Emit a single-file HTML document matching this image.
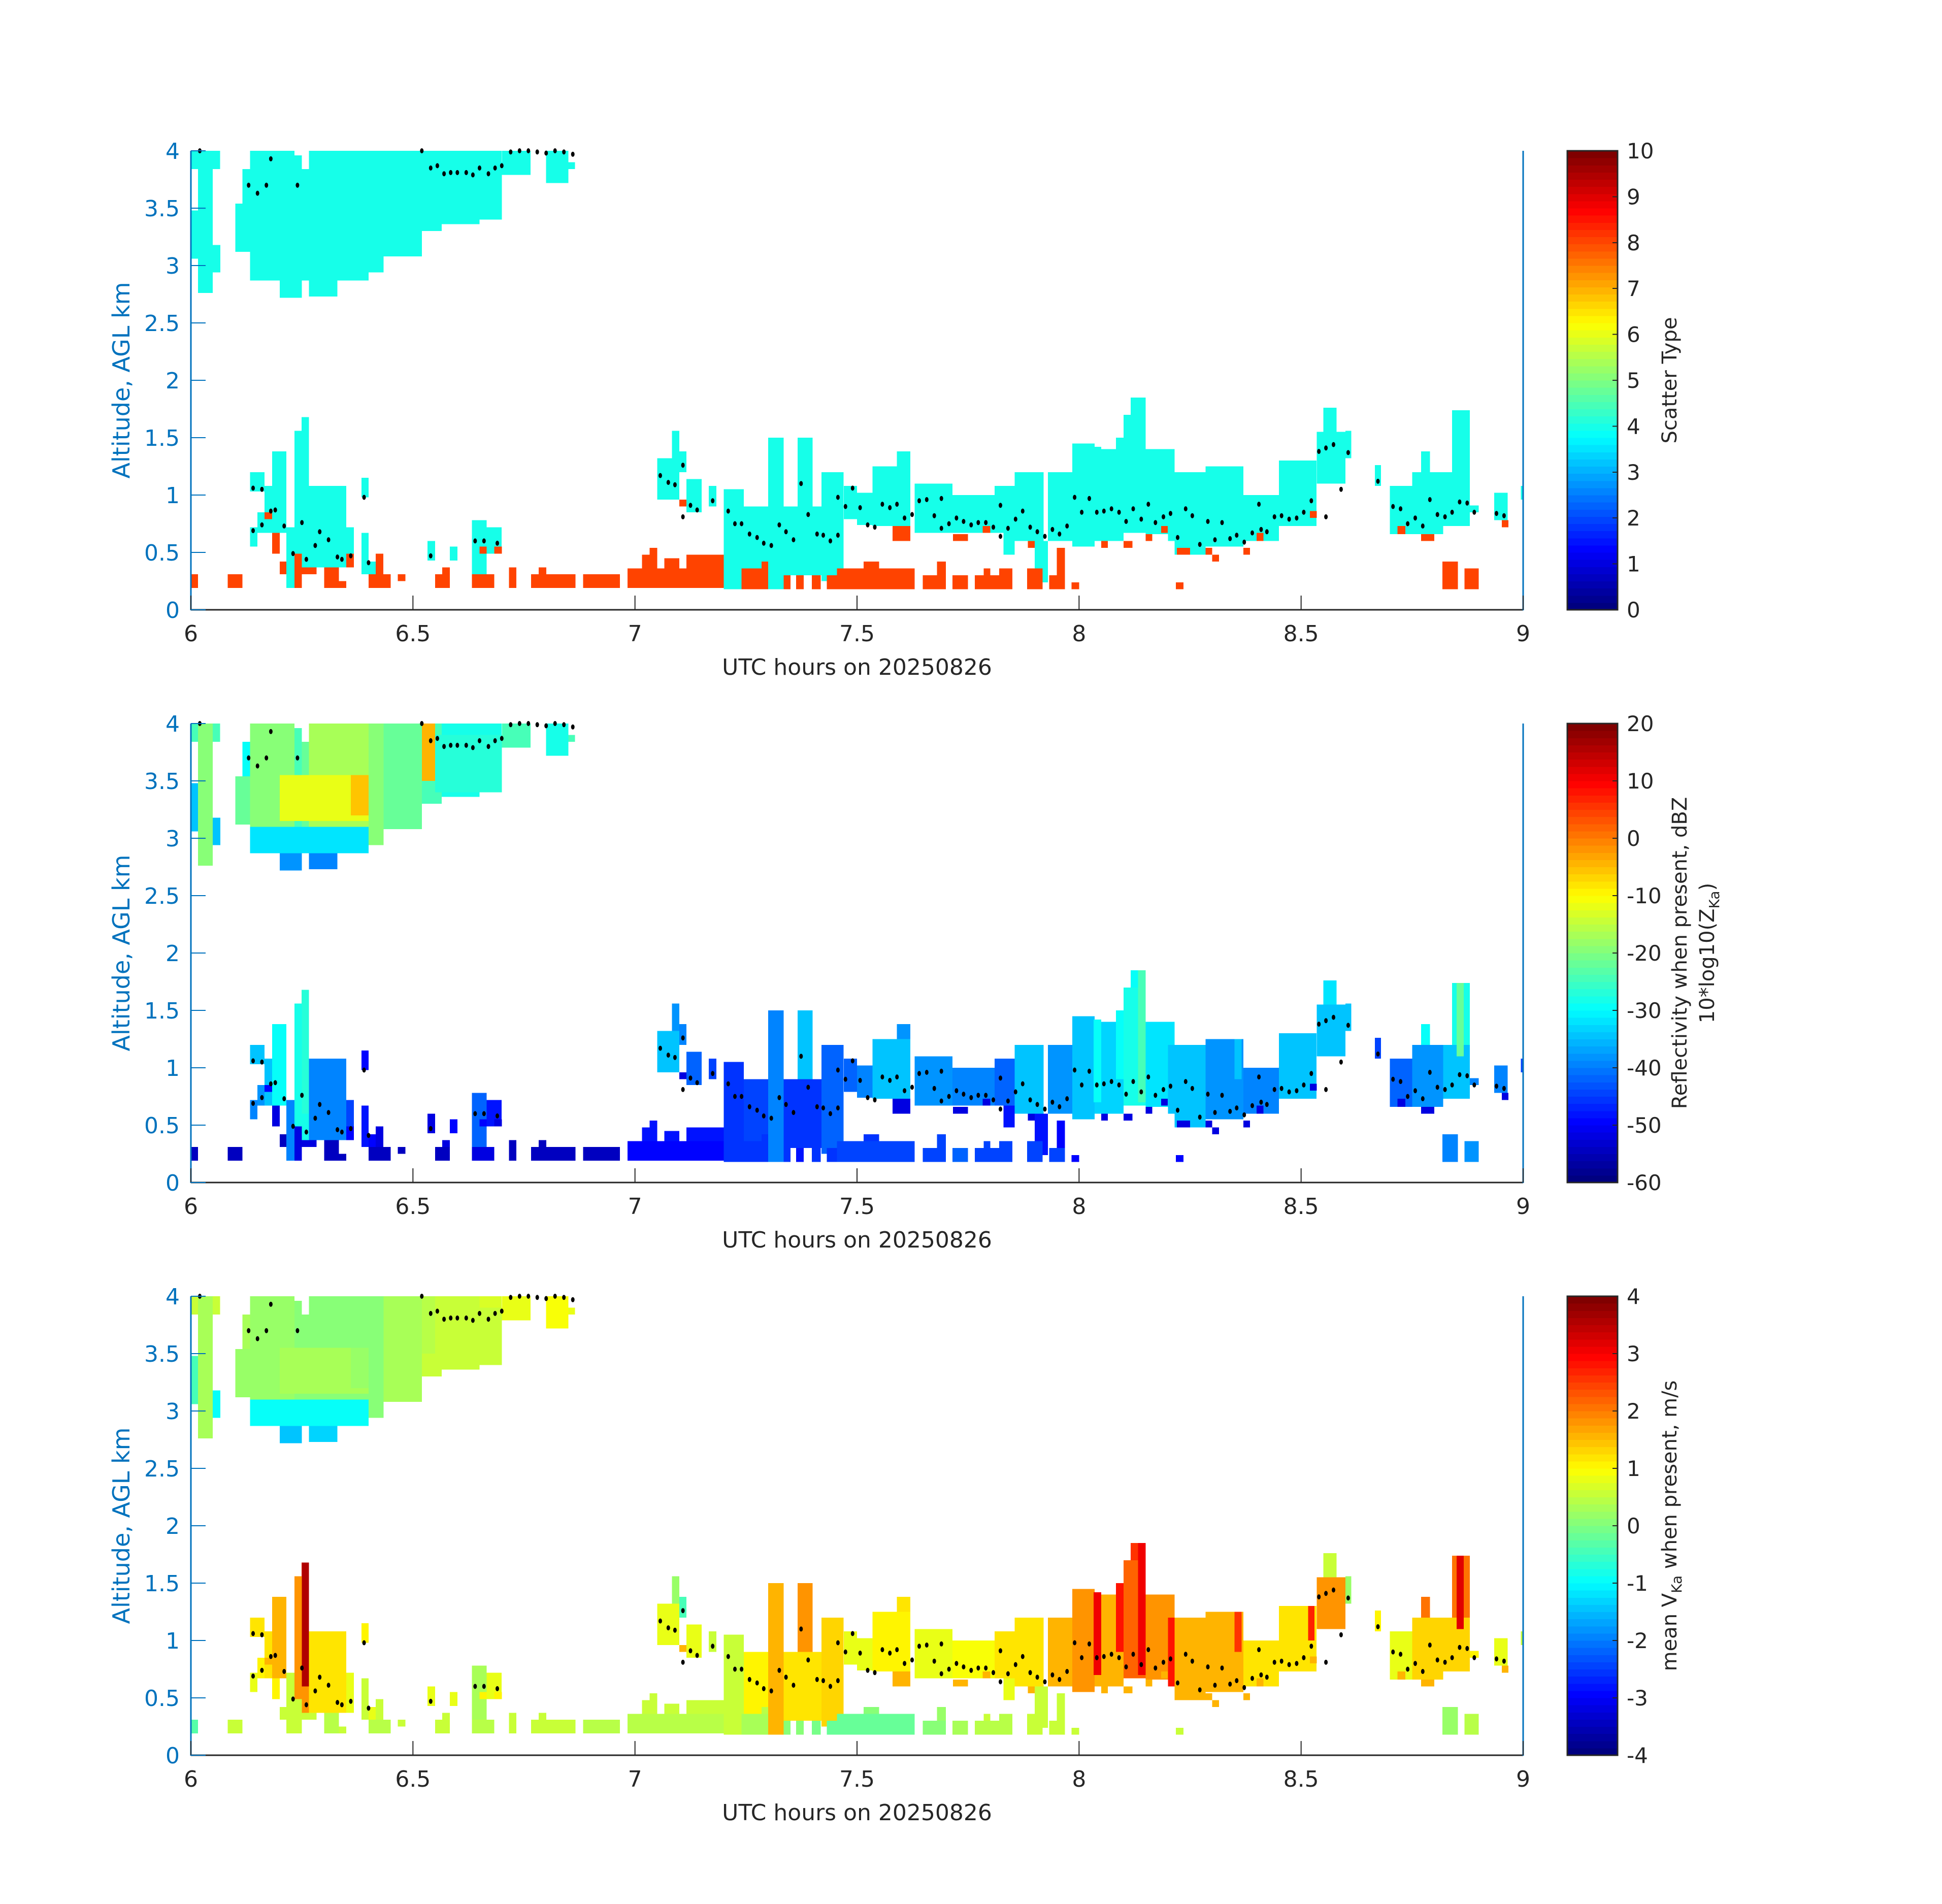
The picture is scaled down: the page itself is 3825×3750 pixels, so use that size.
<!DOCTYPE html>
<html><head><meta charset="utf-8"><title>Radar panels</title>
<style>
html,body{margin:0;padding:0;background:#fff;}
svg{display:block;}
text{font-family:"DejaVu Sans","Liberation Sans",sans-serif;}
</style></head>
<body>
<svg id="fig" xmlns="http://www.w3.org/2000/svg" width="3825" height="3750" viewBox="0 0 3825 3750">
<rect x="0" y="0" width="3825" height="3750" fill="#fff"/>
</svg>
<script>
// ---- data (hours, km) ----
const xTicks = [6, 6.5, 7, 7.5, 8, 8.5, 9];
const yTicks = [0, 0.5, 1, 1.5, 2, 2.5, 3, 3.5, 4];
const yTickLabels = ["0","0.5","1","1.5","2","2.5","3","3.5","4"];
const cbTicks1 = [0,1,2,3,4,5,6,7,8,9,10];
const cbTicks2 = [-60,-50,-40,-30,-20,-10,0,10,20];
const cbTicks3 = [-4,-3,-2,-1,0,1,2,3,4];
// boxes: [t0, t1, z0, z1]
const boxes = [
[6.00,6.066,3.84,4.0],[6.00,6.016,3.06,3.48],[6.016,6.049,2.76,4.0],[6.049,6.066,2.94,3.18],[6.10,6.133,3.12,3.54],
[6.116,6.133,3.54,3.84],[6.133,6.233,2.94,4.0],[6.183,6.233,2.87,2.94],[6.20,6.25,2.72,2.87],[6.233,6.25,2.87,3.96],
[6.25,6.266,2.87,3.84],[6.266,6.40,2.87,4.0],[6.266,6.33,2.73,2.87],[6.40,6.434,2.94,4.0],[6.434,6.52,3.08,4.0],
[6.52,6.565,3.30,4.0],[6.565,6.65,3.36,4.0],[6.65,6.70,3.60,4.0],[6.70,6.765,3.79,4.0],[6.80,6.85,3.72,4.0],
[6.85,6.865,3.84,3.90],[6.133,6.40,2.87,3.10],[6.20,6.40,3.15,3.55],[6.36,6.40,3.20,3.55],[6.52,6.55,3.50,4.0],
[6.55,6.70,3.40,3.90],[6.133,6.166,1.03,1.20],[6.133,6.15,0.55,0.72],[6.15,6.166,0.67,0.85],[6.166,6.183,0.67,1.08],
[6.183,6.215,0.67,1.38],[6.215,6.233,0.19,0.72],[6.233,6.266,0.37,1.56],[6.249,6.266,1.56,1.68],[6.266,6.35,0.37,1.08],
[6.35,6.367,0.49,0.72],[6.384,6.40,0.98,1.15],[6.384,6.40,0.31,0.67],[6.40,6.416,0.31,0.42],[6.533,6.55,0.43,0.60],
[6.583,6.60,0.43,0.55],[6.633,6.666,0.19,0.78],[6.666,6.70,0.49,0.72],[6.0,6.016,0.19,0.31],[6.083,6.116,0.19,0.31],
[6.166,6.183,0.79,0.85],[6.183,6.20,0.49,0.67],[6.20,6.215,0.31,0.42],[6.233,6.25,0.19,0.49],[6.25,6.283,0.31,0.37],
[6.30,6.333,0.19,0.37],[6.333,6.35,0.19,0.25],[6.35,6.367,0.37,0.49],[6.40,6.45,0.19,0.31],[6.416,6.433,0.31,0.49],
[6.466,6.483,0.25,0.31],[6.55,6.583,0.19,0.31],[6.566,6.583,0.31,0.37],[6.633,6.683,0.19,0.31],[6.65,6.666,0.49,0.55],
[6.683,6.70,0.49,0.55],[6.716,6.733,0.19,0.37],[6.766,6.866,0.19,0.31],[6.783,6.80,0.31,0.37],[6.883,6.966,0.19,0.31],
[6.983,7.20,0.19,0.36],[7.016,7.05,0.36,0.48],[7.033,7.05,0.48,0.54],[7.066,7.10,0.36,0.45],[7.116,7.20,0.36,0.48],
[7.05,7.10,0.96,1.32],[7.083,7.10,1.32,1.56],[7.10,7.116,1.20,1.38],[7.116,7.15,0.85,1.14],[7.166,7.183,0.90,1.08],
[7.20,7.245,0.18,1.05],[7.245,7.30,0.30,0.90],[7.30,7.335,0.18,1.50],[7.335,7.42,0.30,0.90],[7.366,7.40,0.90,1.50],
[7.42,7.47,0.25,1.20],[7.47,7.50,0.79,1.08],[7.50,7.535,0.74,1.02],[7.535,7.62,0.73,1.25],[7.59,7.62,1.25,1.38],
[7.63,7.715,0.67,1.10],[7.715,7.81,0.67,1.00],[7.81,7.855,0.67,1.08],[7.855,7.92,0.60,1.20],[7.83,7.855,0.48,0.67],
[7.90,7.93,0.24,0.60],[7.93,7.985,0.60,1.20],[7.985,8.035,0.55,1.45],[8.035,8.10,0.60,1.40],[8.10,8.15,0.67,1.70],
[8.116,8.15,1.70,1.85],[8.15,8.215,0.66,1.40],[8.215,8.285,0.48,1.20],[8.285,8.37,0.55,1.25],[8.37,8.45,0.60,1.00],
[8.45,8.535,0.73,1.30],[8.535,8.60,1.10,1.55],[8.55,8.58,1.55,1.76],[8.60,8.613,1.32,1.56],[8.666,8.68,1.08,1.26],
[8.70,8.75,0.66,1.08],[8.75,8.82,0.66,1.20],[8.77,8.79,1.20,1.38],[8.82,8.88,0.73,1.20],[8.84,8.88,1.20,1.74],
[8.88,8.90,0.85,0.91],[8.935,8.965,0.78,1.02],[8.995,9.0,0.96,1.08],[7.24,7.30,0.18,0.36],[7.285,7.30,0.36,0.42],
[7.335,7.35,0.18,0.30],[7.363,7.38,0.18,0.30],[7.398,7.418,0.18,0.30],[7.432,7.455,0.18,0.30],[7.455,7.63,0.18,0.36],
[7.515,7.55,0.36,0.42],[7.648,7.70,0.18,0.30],[7.68,7.70,0.30,0.42],[7.715,7.75,0.18,0.30],[7.765,7.85,0.18,0.30],
[7.785,7.80,0.30,0.36],[7.82,7.85,0.30,0.36],[7.883,7.918,0.18,0.36],[7.933,7.968,0.18,0.30],[7.95,7.968,0.30,0.54],
[7.983,8.0,0.18,0.24],[8.218,8.235,0.18,0.24],[8.818,8.853,0.18,0.42],[8.868,8.90,0.18,0.36],[7.10,7.116,0.90,0.96],
[7.58,7.62,0.60,0.73],[7.716,7.75,0.60,0.66],[7.783,7.80,0.67,0.73],[7.885,7.90,0.54,0.60],[8.05,8.065,0.54,0.60],
[8.10,8.12,0.54,0.60],[8.15,8.165,0.60,0.66],[8.185,8.20,0.67,0.73],[8.22,8.25,0.48,0.54],[8.285,8.30,0.48,0.54],
[8.30,8.315,0.42,0.48],[8.37,8.385,0.48,0.54],[8.40,8.415,0.60,0.67],[8.52,8.535,0.80,0.86],[8.717,8.735,0.66,0.73],
[8.77,8.80,0.60,0.66],[8.952,8.967,0.72,0.78],[6.25,6.266,0.60,1.68],[8.033,8.05,0.70,1.42],[8.083,8.10,0.90,1.50],
[8.133,8.15,0.70,1.85],[8.20,8.215,0.60,1.20],[8.35,8.366,0.90,1.25],[8.516,8.53,1.00,1.30],[8.85,8.866,1.10,1.74]
];
const scatterType = [
4,4,4,4,4, 4,4,4,4,4, 4,4,4,4,4, 4,4,4,4,4,
4,4,4,4,4, 4,4,4,4,4, 4,4,4,4,4, 4,4,4,4,4,
4,4,4,8,8, 8,8,8,8,8, 8,8,8,8,8, 8,8,8,8,8,
8,8,8,8,8, 8,8,8,8,8, 4,4,4,4,4, 4,4,4,4,4,
4,4,4,4,4, 4,4,4,4,4, 4,4,4,4,4, 4,4,4,4,4,
4,4,4,4,4, 4,4,4,4,4, 4,4,4,8,8, 8,8,8,8,8,
8,8,8,8,8, 8,8,8,8,8, 8,8,8,8,8, 8,8,8,8,8,
8,8,8,8,8, 8,8,8,8,8, 8,8,4,4,4, 4,4,4,4,4
];
const reflectivity = [
-25,-35,-20,-35,-22, -30,-20,-35,-38,-25, -22,-17,-40,-20,-22, -25,-28,-28,-25,-28,
-25,-32,-12,-6,-4, -27,-35,-40,-38,-35, -30,-40,-28,-25,-40, -45,-50,-48,-50,-52,
-50,-42,-48,-55,-55, -50,-52,-55,-52,-52, -55,-55,-50,-55,-52, -55,-55,-52,-52,-50,
-52,-55,-55,-55,-55, -50,-48,-48,-48,-48, -35,-38,-40,-42,-45, -46,-45,-40,-46,-35,
-42,-42,-40,-35,-38, -38,-40,-42,-35,-48, -48,-38,-35,-33,-28, -30,-32,-35,-38,-40,
-35,-35,-32,-35,-45, -42,-38,-30,-35,-28, -40,-40,-45,-46,-46, -46,-48,-46,-46,-45,
-46,-45,-45,-42,-45, -45,-45,-45,-45,-50, -50,-50,-40,-38,-52, -52,-52,-52,-52,-52,
-52,-52,-52,-52,-52, -52,-52,-52,-52,-52, -52,-52,-27,-30,-30, -25,-35,-35,-35,-22
];
const velocity = [
0.5,-0.5,0.3,-1,0.2, 0.3,0.2,-1.2,-1.5,0, 0,0.1,-1.3,0,0.3, 0.5,0.6,0.7,0.8,0.9,
0.8,-1.0,0.3,0.2,0.4, 0.6,1.2,0.8,1.0,1.2, 1.5,0.5,1.8,2.5,1.2, 0.8,1.0,0.5,0.8,0.8,
0.8,0.3,0.8,-0.3,0.5, 1.5,1.0,0.5,0.6,0.5, 0.4,0.5,0.8,0.4,0.5, 0.5,0.5,0.5,0.4,1.0,
1.0,0.5,0.5,0.5,0.4, 0.4,0.5,0.5,0.5,0.5, 0.8,0.2,-0.5,0.8,0.5, 0.6,1.0,1.5,1.2,1.8,
1.3,0.8,0.8,1.0,1.2, 0.8,0.9,1.2,1.2,0.8, 0.5,1.5,1.8,1.5,2.2, 2.5,1.8,1.5,1.5,1.2,
1.2,1.8,0.5,0.2,1.0, 0.8,1.3,2.0,1.3,2.0, 1.0,0.8,0.5,0.3,0.4, 0.1,0.0,-0.1,-0.2,-0.2,
0.0,0.0,0.2,0.3,0.4, 0.5,0.4,0.5,0.5,0.5, 0.5,0.5,0.2,0.4,1.5, 1.5,1.5,1.5,1.5,1.5,
1.5,1.5,1.5,1.5,1.5, 1.5,1.5,1.5,1.5,1.5, 1.5,1.5,3.5,3.0,2.8, 3.0,2.8,2.5,2.7,3.2
];
// cloud-base markers
const dotT = [6.02,6.13,6.15,6.17,6.18,6.24,6.52,6.54,6.555,6.57,6.585,6.6,6.62,6.635,6.65,6.67,6.685,6.70,6.72,6.74,6.76,6.78,6.80,6.82,6.84,6.86,
6.14,6.16,6.14,6.16,6.18,6.19,6.21,6.23,6.25,6.26,6.28,6.29,6.31,6.33,6.34,6.36,6.39,6.40,6.54,6.64,6.66,6.69,
7.057,7.075,7.09,7.108,7.108,7.125,7.14,7.175,7.21,7.225,7.24,7.258,7.275,7.29,7.307,7.325,7.34,7.357,7.374,7.39,7.41,7.424,7.44,7.457,7.457,7.474,7.49,7.507,7.524,7.54,7.557,7.574,7.59,7.607,7.624,7.64,7.657,7.674,7.69,7.69,7.707,7.724,7.74,7.757,7.773,7.79,7.807,7.823,7.823,7.84,7.857,7.873,7.89,7.906,7.923,7.94,7.956,7.973,7.99,8.006,8.023,8.04,8.056,8.073,8.09,8.106,8.122,8.14,8.156,8.172,8.19,8.206,8.222,8.24,8.255,8.272,8.29,8.306,8.322,8.34,8.355,8.372,8.39,8.405,8.41,8.423,8.44,8.456,8.473,8.49,8.506,8.523,8.54,8.556,8.556,8.573,8.606,8.59,8.673,8.707,8.724,8.74,8.757,8.774,8.79,8.807,8.824,8.84,8.857,8.874,8.89,8.94,8.957];
const dotZ = [4.0,3.70,3.63,3.70,3.93,3.70,4.0,3.85,3.87,3.80,3.81,3.81,3.81,3.79,3.85,3.80,3.85,3.87,3.99,4.0,4.0,3.99,3.98,4.0,3.99,3.97,
1.06,1.05,0.69,0.74,0.86,0.87,0.73,0.49,0.76,0.44,0.56,0.68,0.61,0.46,0.44,0.47,0.98,0.41,0.47,0.60,0.60,0.58,
1.17,1.11,1.09,1.26,0.81,0.91,0.87,0.95,0.86,0.75,0.75,0.66,0.63,0.58,0.56,0.74,0.68,0.61,1.10,0.83,0.66,0.65,0.60,0.65,0.98,0.90,1.06,0.89,0.74,0.72,0.92,0.89,0.92,0.80,0.83,0.95,0.96,0.82,0.71,0.97,0.75,0.80,0.77,0.74,0.76,0.76,0.72,0.64,0.91,0.71,0.79,0.86,0.72,0.68,0.64,0.70,0.66,0.73,0.98,0.85,0.97,0.85,0.86,0.88,0.85,0.77,0.88,0.79,0.92,0.76,0.81,0.84,0.63,0.88,0.82,0.57,0.77,0.61,0.76,0.62,0.65,0.59,0.67,0.92,0.70,0.68,0.81,0.82,0.79,0.80,0.85,0.95,1.38,1.41,0.81,1.44,1.37,1.05,1.12,0.90,0.88,0.75,0.80,0.73,0.96,0.83,0.81,0.85,0.94,0.93,0.85,0.84,0.82];

// ---- layout ----
const NS = "http://www.w3.org/2000/svg";
const svg = document.getElementById("fig");
const L = 376, R = 3000, H = 904;
const tops = [297, 1425, 2553];
const CBX = 3087, CBW = 99;
const BLUE = "#0072BD", DARK = "#262626";
function mk(tag, attrs, parent){ const e=document.createElementNS(NS,tag); for(const k in attrs) e.setAttribute(k,attrs[k]); (parent||svg).appendChild(e); return e; }
function jet(f){ f=Math.max(0,Math.min(1,f)); f=Math.min(63,Math.floor(f*64))/63;
  const c=v=>Math.round(255*Math.max(0,Math.min(1,v)));
  return `rgb(${c(1.5-Math.abs(4*f-3))},${c(1.5-Math.abs(4*f-2))},${c(1.5-Math.abs(4*f-1))})`; }

const panels = [
  {vals: scatterType, vmin:0, vmax:10, ticks: cbTicks1, labels:["Scatter Type"], name:"scatter-type"},
  {vals: reflectivity, vmin:-60, vmax:20, ticks: cbTicks2, labels:["Reflectivity when present, dBZ","10*log10(Z<tspan font-size='28' dy='10'>Ka</tspan><tspan dy='-10'>)</tspan>"], name:"reflectivity"},
  {vals: velocity, vmin:-4, vmax:4, ticks: cbTicks3, labels:["mean V<tspan font-size='28' dy='10'>Ka</tspan><tspan dy='-10'> when present, m/s</tspan>"], name:"velocity"}
];

panels.forEach((p, pi) => {
  const T = tops[pi], B = T + H;
  const xs = t => L + (t - 6) / 3 * (R - L);
  const ys = z => B - z / 4 * H;
  const g = mk("g", {});
  
  
  const cells = mk("g", {"shape-rendering":"crispEdges"}, g);
  
  
  boxes.forEach((b, i) => {
    const x0 = xs(b[0]), x1 = xs(Math.min(b[1], 9.0));
    const y1 = ys(Math.min(b[3], 4)), y0 = ys(b[2]);
    const r = mk("rect", {x:x0.toFixed(1), y:y1.toFixed(1), width:Math.max(1,x1-x0).toFixed(1), height:(y0-y1).toFixed(1),
      fill: jet((p.vals[i]-p.vmin)/(p.vmax-p.vmin))}, cells);
    
    
  });
  const dots = mk("g", {}, g);
  
  
  dotT.forEach((t, i) => {
    const c = mk("ellipse", {cx:xs(t).toFixed(1), cy:ys(dotZ[i]).toFixed(1), rx:3.5, ry:5, fill:"#000"}, dots);
    
    
  });
  // axes
  const ax = mk("g", {}, g);
  
  
  mk("line", {x1:L, y1:B, x2:R, y2:B, stroke:DARK, "stroke-width":3}, ax);
  mk("line", {x1:L, y1:T, x2:L, y2:B+1, stroke:BLUE, "stroke-width":3}, ax);
  mk("line", {x1:R, y1:T, x2:R, y2:B+1, stroke:BLUE, "stroke-width":3}, ax);
  xTicks.forEach(t => {
    const x = xs(t);
    mk("line", {x1:x, y1:B, x2:x, y2:B-28, stroke:DARK, "stroke-width":2}, ax);
    const tx = mk("text", {x:x, y:B+62, "font-size":44, fill:DARK, "text-anchor":"middle"}, ax);
    tx.textContent = String(t);
    
    
  });
  yTicks.forEach((z, k) => {
    const y = ys(z);
    mk("line", {x1:L, y1:y, x2:L+29, y2:y, stroke:BLUE, "stroke-width":2}, ax);
    const tx = mk("text", {x:354, y:y+16, "font-size":44, fill:BLUE, "text-anchor":"end"}, ax);
    tx.textContent = yTickLabels[k];
    
    
  });
  const xl = mk("text", {x:(L+R)/2, y:B+128, "font-size":44, fill:DARK, "text-anchor":"middle"}, g);
  xl.textContent = "UTC hours on 20250826";
  
  
  const yl = mk("text", {x:0, y:0, "font-size":46, fill:BLUE, "text-anchor":"middle", transform:`translate(255 ${T+H/2}) rotate(-90)`}, g);
  yl.textContent = "Altitude, AGL km";
  
  
  // colorbar
  const cb = mk("g", {"shape-rendering":"crispEdges"}, g);
  
  
  for (let k = 0; k < 64; k++) {
    const y1 = B - (k+1)/64*H, hh = H/64;
    mk("rect", {x:CBX, y:y1.toFixed(2), width:CBW, height:(hh+0.6).toFixed(2), fill:jet((k+0.5)/64)}, cb);
  }
  mk("rect", {x:CBX, y:T, width:CBW, height:H, fill:"none", stroke:DARK, "stroke-width":3}, cb);
  p.ticks.forEach(v => {
    const y = B - (v-p.vmin)/(p.vmax-p.vmin)*H;
    mk("line", {x1:CBX+CBW-10, y1:y, x2:CBX+CBW, y2:y, stroke:DARK, "stroke-width":2}, cb);
    const tx = mk("text", {x:3204, y:y+15, "font-size":42, fill:DARK}, cb);
    tx.textContent = String(v);
    
    
  });
  const lx = p.labels.length === 2 ? [3322, 3376] : [3302];
  p.labels.forEach((s, k) => {
    const tx = mk("text", {x:0, y:0, "font-size":40, fill:DARK, "text-anchor":"middle", transform:`translate(${lx[k]} ${T+H/2}) rotate(-90)`}, g);
    tx.innerHTML = s;
    
    
  });
});
</script>
</body></html>
